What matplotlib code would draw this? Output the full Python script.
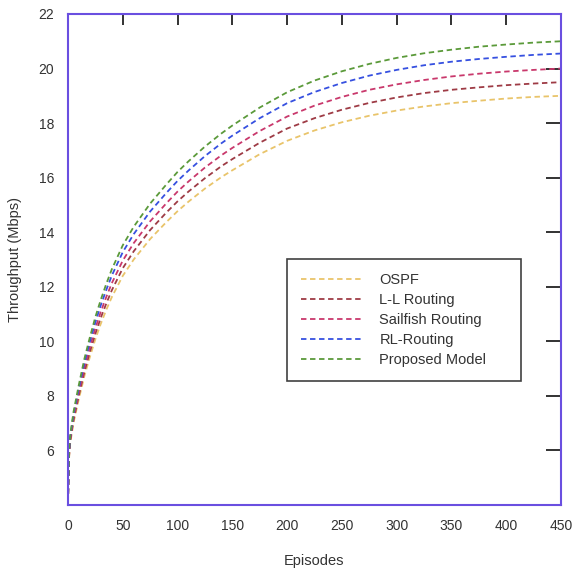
import matplotlib.pyplot as plt

plt.rcParams['font.family'] = ['Liberation Sans', 'DejaVu Sans']

episodes = [0, 1, 2, 5, 10, 15, 20, 25, 30, 35, 40, 50, 60, 75, 90, 100, 110, 125, 140, 150,
            175, 200, 225, 250, 275, 300, 325, 350, 375, 400, 425, 450]

ospf = [4.08, 5.73, 6.25, 7.0, 7.9, 8.73, 9.43, 10.08, 10.65, 11.16, 11.62, 12.4, 13.0, 13.75,
        14.38, 14.77, 15.12, 15.6, 16.02, 16.27, 16.86, 17.35, 17.73, 18.03, 18.27, 18.46,
        18.61, 18.73, 18.82, 18.9, 18.96, 19.0]
ll_routing = [4.08, 5.78, 6.33, 7.1, 8.03, 8.88, 9.61, 10.28, 10.87, 11.39, 11.87, 12.68, 13.3,
              14.08, 14.73, 15.13, 15.49, 15.98, 16.42, 16.68, 17.28, 17.8, 18.18, 18.49,
              18.74, 18.94, 19.1, 19.22, 19.31, 19.39, 19.45, 19.5]
sailfish = [4.08, 5.84, 6.4, 7.2, 8.16, 9.04, 9.79, 10.48, 11.09, 11.63, 12.13, 12.96, 13.6,
            14.4, 15.07, 15.49, 15.86, 16.37, 16.82, 17.09, 17.71, 18.24, 18.64, 18.96,
            19.22, 19.42, 19.58, 19.71, 19.81, 19.89, 19.95, 20.0]
rl_routing = [4.08, 5.9, 6.48, 7.31, 8.3, 9.21, 9.99, 10.7, 11.33, 11.89, 12.41, 13.27, 13.93,
              14.76, 15.45, 15.88, 16.26, 16.79, 17.26, 17.54, 18.18, 18.73, 19.14, 19.47,
              19.74, 19.95, 20.12, 20.25, 20.35, 20.43, 20.5, 20.55]
proposed = [4.08, 5.96, 6.55, 7.4, 8.42, 9.36, 10.15, 10.89, 11.53, 12.11, 12.64, 13.52, 14.2,
            15.05, 15.76, 16.21, 16.6, 17.14, 17.62, 17.91, 18.57, 19.13, 19.56, 19.9,
            20.17, 20.39, 20.56, 20.69, 20.8, 20.88, 20.95, 21.0]

labels = ['OSPF', 'L-L Routing', 'Sailfish Routing', 'RL-Routing', 'Proposed Model']
colors = ['#e9c46a', '#9e3b45', '#c9386c', '#3650e0', '#5b9a3a']
series = [ospf, ll_routing, sailfish, rl_routing, proposed]

fig = plt.figure(figsize=(5.76, 5.75), dpi=100)
ax = fig.add_axes([0.118, 0.1217, 0.856, 0.854])

for vals, c, lab in zip(series, colors, labels):
    ax.plot(episodes, vals, color=c, lw=1.3, ls=(0, (3, 2)), label=lab)

ax.set_xlim(0, 450)
ax.set_ylim(4, 22)
ax.set_xticks(range(0, 451, 50))
ax.set_yticks(range(6, 23, 2))

for s in ax.spines.values():
    s.set_color('#6a4fe0')
    s.set_linewidth(1.5)

txt = '#333333'
ax.tick_params(axis='both', length=0, labelsize=10, labelcolor=txt, pad=10)

# inner tick marks on the top and right edges
top = ax.secondary_xaxis('top')
top.set_xticks(range(50, 401, 50))
top.tick_params(direction='in', length=8, width=1.3, color='#222222', labeltop=False)
top.spines['top'].set_visible(False)
right = ax.secondary_yaxis('right')
right.set_yticks(range(6, 21, 2))
right.tick_params(direction='in', length=11, width=1.3, color='#222222', labelright=False)
right.spines['right'].set_visible(False)

ax.set_xlabel('Episodes', fontsize=10.5, color=txt, labelpad=15)
ax.set_ylabel('Throughput (Mbps)', fontsize=10.5, color=txt, labelpad=12)

leg = ax.legend(loc='lower left', bbox_to_anchor=(0.444, 0.2525, 0.475, 0.25), mode='expand',
                borderaxespad=0, fontsize=10.5, frameon=True, fancybox=False,
                handlelength=4.2, handletextpad=1.2, labelspacing=0.42, borderpad=0.95)
leg.get_frame().set_edgecolor('#111111')
leg.get_frame().set_linewidth(1.2)
for t in leg.get_texts():
    t.set_color(txt)

fig.savefig('out.png', dpi=100)
